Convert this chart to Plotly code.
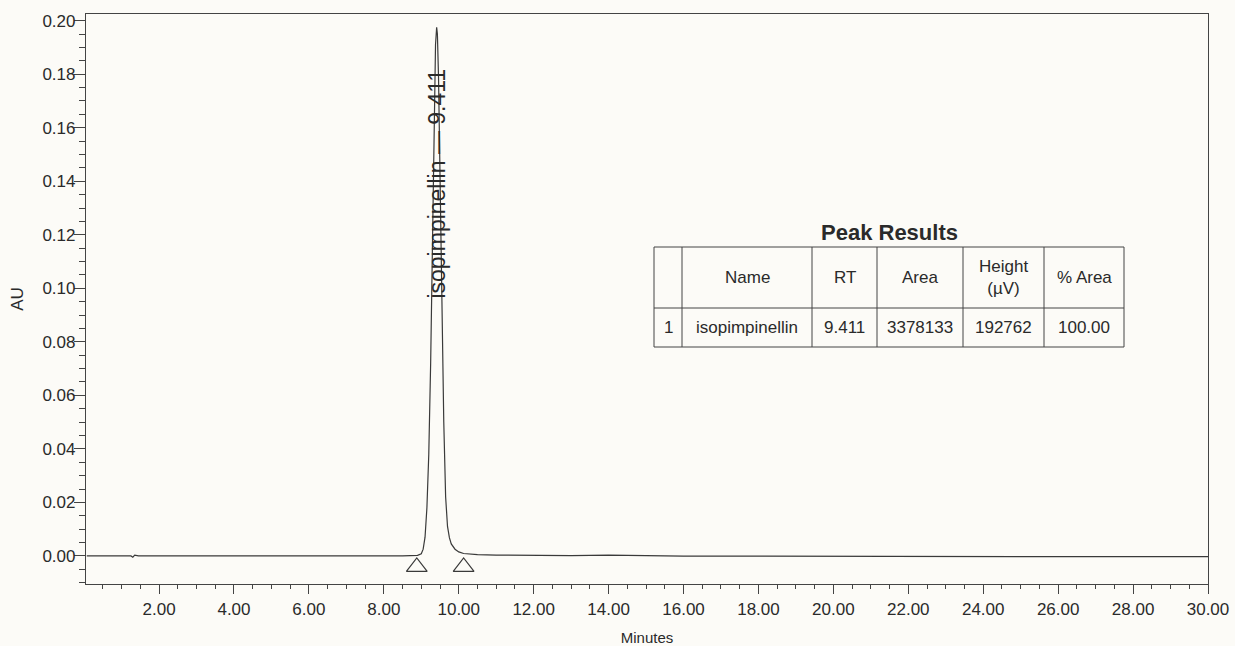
import plotly.graph_objects as go

# ---- data ----
time_min = [0.07, 0.6, 1.0, 1.25, 1.3, 1.35, 1.45, 2.0, 3.0, 4.0, 5.0, 6.0, 7.0, 8.0, 8.5,
            8.9, 9.0, 9.05, 9.10, 9.15, 9.20, 9.25, 9.30, 9.35, 9.38, 9.41, 9.43, 9.46,
            9.50, 9.55, 9.60, 9.65, 9.70, 9.75, 9.80, 9.90, 10.0, 10.13, 10.5, 11.0,
            12.0, 13.0, 14.0, 14.3, 15.0, 16.0, 18.0, 20.0, 22.0, 24.0, 26.0, 28.0, 30.0]
signal_au = [0.0000, 0.0001, 0.0000, 0.0000, -0.0005, 0.0003, 0.0000, 0.0000, 0.0001, 0.0000,
             -0.0001, 0.0000, -0.0001, -0.0001, 0.0000,
             0.0002, 0.0008, 0.0025, 0.0070, 0.0180, 0.0380, 0.0720, 0.1180, 0.1660, 0.1910,
             0.1975, 0.1950, 0.1790,
             0.1430, 0.0920, 0.0500, 0.0220, 0.0110, 0.0068, 0.0045, 0.0025, 0.0015, 0.0009,
             0.0005, 0.0003,
             0.0002, 0.0001, 0.0003, 0.0002, 0.0000, -0.0001, -0.0001, -0.0002, -0.0002,
             -0.0002, -0.0003, -0.0003, -0.0003]

peak_marker_t = [8.88, 10.13]
peak_marker_au = [-0.0041, -0.0041]

peak_label = "isopimpinellin \u2014 9.411"
peak_rt = 9.41
peak_label_au = 0.139

x_tick_vals = [2, 4, 6, 8, 10, 12, 14, 16, 18, 20, 22, 24, 26, 28, 30]
x_tick_text = ["2.00", "4.00", "6.00", "8.00", "10.00", "12.00", "14.00", "16.00",
               "18.00", "20.00", "22.00", "24.00", "26.00", "28.00", "30.00"]

table_title = "Peak Results"
table_header = ["", "Name", "RT", "Area", "Height<br>(\u00b5V)", "% Area"]
table_row = ["1", "isopimpinellin", "9.411", "3378133", "192762", "100.00"]

# ---- layout constants (pixels on the page) ----
BG = "#fcfbf7"
INK = "#2a2a2a"
LINE = "#444444"
FONT = "Liberation Sans, Arial, sans-serif"

W, H = 1235, 646
PLOT_L, PLOT_R, PLOT_T, PLOT_B = 86, 1208, 14, 584   # frame on the page

TABLE_LEFT, TABLE_TOP = 654, 247
COL_W = [28, 130, 65, 86, 81, 80]
HEADER_H, ROW_H = 61, 39
TITLE_Y = 233


def px_to_paper_x(px):
    return (px - PLOT_L) / (PLOT_R - PLOT_L)


def px_to_paper_y(py):
    return (PLOT_B - py) / (PLOT_B - PLOT_T)


fig = go.Figure()

fig.add_trace(go.Scatter(
    x=time_min, y=signal_au, mode="lines",
    line=dict(color="#3a3a3a", width=1.2), showlegend=False, hoverinfo="skip"))

fig.add_trace(go.Scatter(
    x=peak_marker_t, y=peak_marker_au, mode="markers",
    marker=dict(symbol="triangle-up-open", size=18, color="#3a3a3a",
                line=dict(width=1.2, color="#3a3a3a")),
    showlegend=False, hoverinfo="skip"))

fig.add_annotation(x=peak_rt, y=peak_label_au, xref="x", yref="y",
                   text=peak_label, textangle=-90, showarrow=False,
                   xanchor="center", yanchor="middle",
                   font=dict(family=FONT, size=23, color=INK))

# ---- Peak Results table ----
col_edges = [TABLE_LEFT]
for w in COL_W:
    col_edges.append(col_edges[-1] + w)
table_right = col_edges[-1]
header_bottom = TABLE_TOP + HEADER_H
table_bottom = header_bottom + ROW_H

shapes = []
shapes.append(dict(type="rect", xref="paper", yref="paper",
                   x0=px_to_paper_x(TABLE_LEFT), x1=px_to_paper_x(table_right),
                   y0=px_to_paper_y(table_bottom), y1=px_to_paper_y(TABLE_TOP),
                   line=dict(color=LINE, width=1), fillcolor=BG, layer="above"))
shapes.append(dict(type="line", xref="paper", yref="paper",
                   x0=px_to_paper_x(TABLE_LEFT), x1=px_to_paper_x(table_right),
                   y0=px_to_paper_y(header_bottom), y1=px_to_paper_y(header_bottom),
                   line=dict(color=LINE, width=1), layer="above"))
for e in col_edges[1:-1]:
    shapes.append(dict(type="line", xref="paper", yref="paper",
                       x0=px_to_paper_x(e), x1=px_to_paper_x(e),
                       y0=px_to_paper_y(table_bottom), y1=px_to_paper_y(TABLE_TOP),
                       line=dict(color=LINE, width=1), layer="above"))

for i in range(len(COL_W)):
    cx = px_to_paper_x((col_edges[i] + col_edges[i + 1]) / 2)
    if table_header[i]:
        fig.add_annotation(x=cx, y=px_to_paper_y(TABLE_TOP + HEADER_H / 2),
                           xref="paper", yref="paper", text=table_header[i],
                           showarrow=False, xanchor="center", yanchor="middle",
                           font=dict(family=FONT, size=17, color=INK))
    fig.add_annotation(x=cx, y=px_to_paper_y(header_bottom + ROW_H / 2),
                       xref="paper", yref="paper", text=table_row[i],
                       showarrow=False, xanchor="center", yanchor="middle",
                       font=dict(family=FONT, size=17, color=INK))

fig.add_annotation(x=px_to_paper_x((TABLE_LEFT + table_right) / 2), y=px_to_paper_y(TITLE_Y),
                   xref="paper", yref="paper", text="<b>" + table_title + "</b>",
                   showarrow=False, xanchor="center", yanchor="middle",
                   font=dict(family=FONT, size=22, color=INK))

fig.update_layout(
    width=W, height=H,
    margin=dict(l=PLOT_L, r=W - PLOT_R, t=PLOT_T, b=H - PLOT_B),
    paper_bgcolor=BG, plot_bgcolor=BG,
    font=dict(family=FONT, color=INK),
    shapes=shapes,
)

fig.update_xaxes(
    range=[0.05, 30.0], showgrid=False, zeroline=False, automargin=False,
    showline=True, linecolor=LINE, linewidth=1.2, mirror=True,
    tickmode="array", tickvals=x_tick_vals, ticktext=x_tick_text,
    ticks="outside", ticklen=9, tickwidth=1, tickcolor=LINE,
    ticklabeloverflow="allow",
    tickfont=dict(family=FONT, size=17, color=INK),
    minor=dict(tick0=0, dtick=0.5, ticks="outside", ticklen=4, tickcolor=LINE, tickwidth=1),
    title=dict(text="Minutes", font=dict(family=FONT, size=15, color=INK), standoff=21),
)

fig.update_yaxes(
    range=[-0.0105, 0.2025], showgrid=False, zeroline=False, automargin=False,
    showline=True, linecolor=LINE, linewidth=1.2, mirror=True,
    tick0=0, dtick=0.02, tickformat=".2f",
    ticks="outside", ticklen=11, tickwidth=1, tickcolor=LINE,
    ticklabelstandoff=-5,
    tickfont=dict(family=FONT, size=17, color=INK),
    minor=dict(tick0=0, dtick=0.005, ticks="outside", ticklen=6, tickcolor=LINE, tickwidth=1),
    title=dict(text="AU", font=dict(family=FONT, size=17, color=INK), standoff=14),
)

# remove the browser's default 8px body margin so the 1235x646 figure fills the window
fig.write_html("out.html",
               config={"displayModeBar": False},
               post_script="document.body.style.margin='0';document.body.style.overflow='hidden';")
